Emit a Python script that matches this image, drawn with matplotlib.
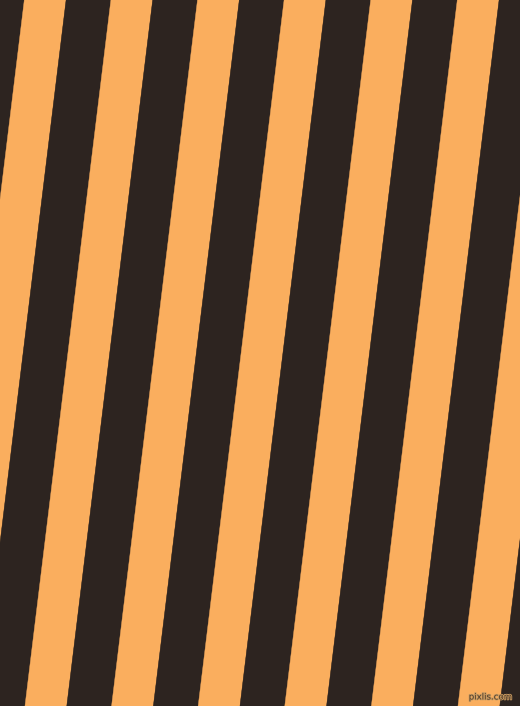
import matplotlib
matplotlib.use("Agg")
import matplotlib.pyplot as plt
from matplotlib.patches import Polygon

# ---- data ----
stripe_colors = ["#FAAE5E", "#2D2420"]      # orange, dark brown
stripe_widths = [41.8, 44.8]                # horizontal widths in px
first_edge_top = 24.3                        # left edge of first orange stripe at top
slope_dx_per_dy = -0.1217                    # stripes lean: x shifts left going down
watermark = "pixlis.com"

W, H = 520, 706
fig = plt.figure(figsize=(W / 100, H / 100), dpi=100)
ax = fig.add_axes([0, 0, 1, 1])
ax.set_xlim(0, W)
ax.set_ylim(H, 0)
ax.axis("off")
ax.set_facecolor(stripe_colors[1])
fig.patch.set_facecolor(stripe_colors[1])

period = sum(stripe_widths)
shift = slope_dx_per_dy * H
start = first_edge_top - period * 3
x = start
while x < W + period * 3:
    for c, w in zip(stripe_colors, stripe_widths):
        pts = [(x, 0), (x + w, 0), (x + w + shift, H), (x + shift, H)]
        ax.add_patch(Polygon(pts, closed=True, facecolor=c, edgecolor=c,
                             linewidth=0.3, antialiased=True))
        x += w

import matplotlib.patheffects as pe
ax.text(512, 697, watermark, ha="right", va="center", fontsize=6.2,
        color="#4A3828", family="DejaVu Sans",
        path_effects=[pe.withStroke(linewidth=1.2, foreground="#C89A60")])

fig.savefig("out.png", dpi=100, facecolor=fig.get_facecolor())
